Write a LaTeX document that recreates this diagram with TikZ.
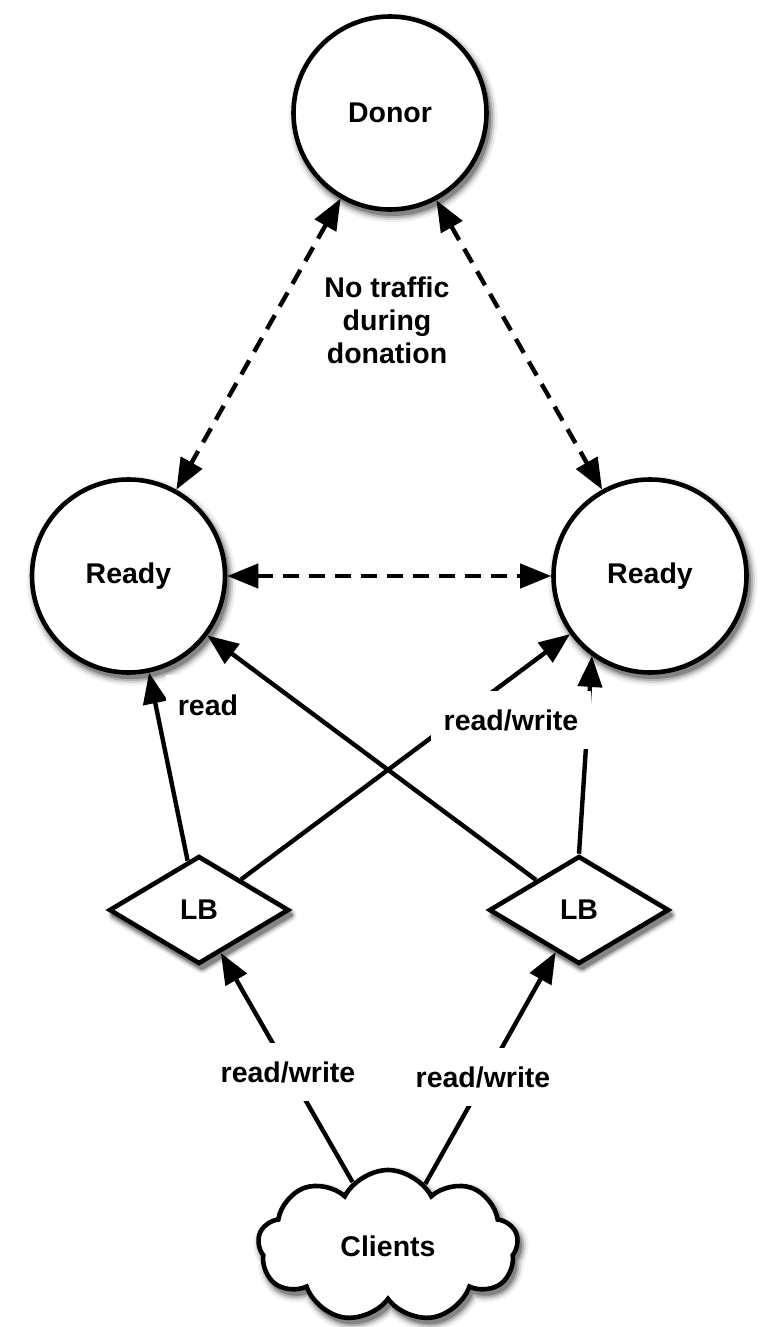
\documentclass[tikz,border=0pt]{standalone}
\usepackage{fontspec}
\setmainfont{Liberation Sans}
\usetikzlibrary{arrows.meta,shapes.geometric,shapes.symbols,calc}

\begin{document}
\begin{tikzpicture}[x=1pt,y=-1pt,
  lbl/.style={font=\fontsize{28.5}{33}\selectfont\bfseries},
  % one grey layer of a soft drop shadow: stroke width, grey level
  ghost/.style 2 args={draw=black!#2,fill=black!#2,line width=#1pt,line join=round,inner sep=0pt},
  roundish/.style={circle,minimum size=193pt,inner sep=0pt},
  lbshape/.style={diamond,minimum width=180pt,minimum height=108pt,inner sep=0pt},
  puffy/.style={cloud,cloud puffs=9,cloud puff arc=125,aspect=1.7,minimum width=260pt,minimum height=152pt,inner sep=0pt},
  state/.style={roundish,draw,line width=4.6pt,fill=white,lbl},
  lb/.style={lbshape,draw,line width=4.6pt,fill=white,lbl},
  crowd/.style={puffy,draw,line width=4.6pt,fill=white,lbl},
  flow/.style={line width=4.4pt,-{Triangle[length=31pt,width=24pt]}},
  both/.style={line width=4.4pt,dash pattern=on 16pt off 10pt,{Triangle[length=31pt,width=24pt]}-{Triangle[length=31pt,width=24pt]}},
  tag/.style={fill=white,lbl,inner sep=0pt,minimum width=160pt,minimum height=58pt},
]
\useasboundingbox (0,0) rectangle (761,1327);

% soft shadows, lightest and widest first
\foreach \w/\c in {16/6,11/16,7/30,3/48}{
  \node[roundish,ghost={\w}{\c}] (sdonor\w) at (393,118) {};
  \node[roundish,ghost={\w}{\c}] (sreadyL\w) at (131.5,581) {};
  \node[roundish,ghost={\w}{\c}] (sreadyR\w) at (653,581) {};
  \node[lbshape,ghost={\w}{\c}] (slbL\w) at (202,915) {};
  \node[lbshape,ghost={\w}{\c}] (slbR\w) at (582,915) {};
  \node[puffy,ghost={\w}{\c}] (sclients\w) at (391,1251) {};
}

% nodes
\node[state] (donor) at (390,113) {Donor};
\node[state] (readyL) at (128.5,576) {Ready};
\node[state] (readyR) at (650,576) {Ready};
\node[lb] (lbL) at (199,910) {LB};
\node[lb] (lbR) at (579,910) {LB};
\node[crowd] (clients) at (388,1246) {Clients};

\node[lbl,align=center] (note) at (387,320) {No traffic\\during\\donation};

% replication links
\draw[both] (donor.240) -- (readyL.61.5);
\draw[both] (donor.298.5) -- (readyR.119.7);
\draw[both] (readyL.east) -- (readyR.west);

% load balancer traffic
\draw[flow] (lbL.103) -- (readyL.282.7);
\draw[flow] (lbL.36) -- (readyR.216.8);
\draw[flow] (lbR.145.7) -- (readyL.323.2);
\draw[flow] (lbR.north) -- (readyR.234.5);
\draw[flow] (clients.119.7) -- (lbL.297.5);
\draw[flow] (clients.59.6) -- (lbR.241.6);

% edge labels on white patches
\node[tag,minimum width=84pt,minimum height=60pt] (tread) at (208,705) {read};
\node[tag] (trwR) at (511,720) {read/write};
\node[tag] (trwL) at (288,1072) {read/write};
\node[tag] (trwB) at (483,1077) {read/write};
\end{tikzpicture}
\end{document}
